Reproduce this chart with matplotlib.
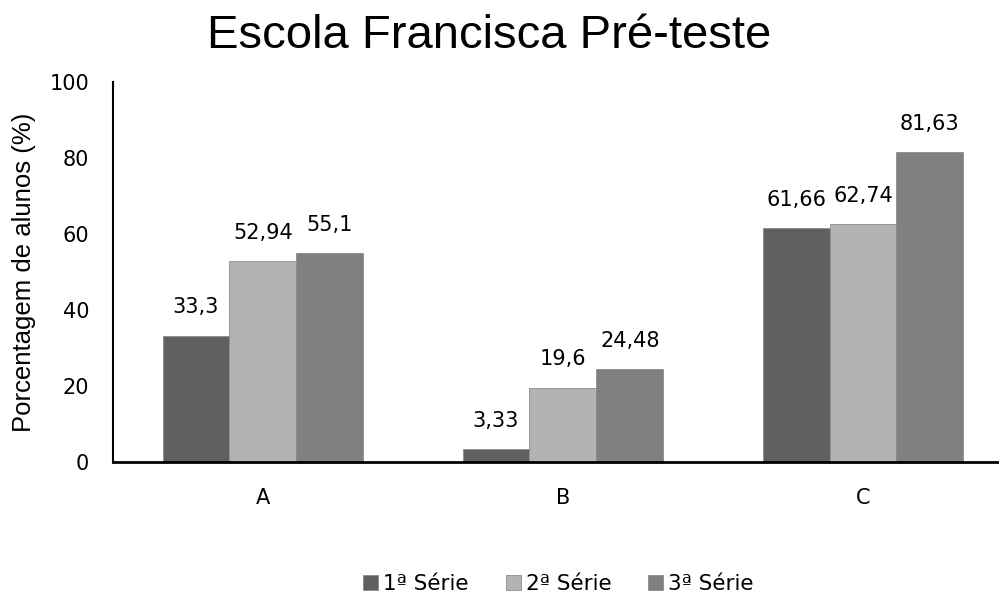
import matplotlib
matplotlib.use("Agg")
import matplotlib.pyplot as plt
import numpy as np

categories = ["A", "B", "C"]
series_names = ["1ª Série", "2ª Série", "3ª Série"]
serie1 = [33.3, 3.33, 61.66]
serie2 = [52.94, 19.6, 62.74]
serie3 = [55.1, 24.48, 81.63]
value_labels = [["33,3", "3,33", "61,66"],
                ["52,94", "19,6", "62,74"],
                ["55,1", "24,48", "81,63"]]
colors = ["#606060", "#b3b3b3", "#808080"]

fig = plt.figure(figsize=(9.99, 5.96), dpi=100)
ax = fig.add_axes([0.113, 0.2248, 0.886, 0.637])

x = np.arange(len(categories))
w = 0.223
for i, (vals, name) in enumerate(zip([serie1, serie2, serie3], series_names)):
    pos = x + (i - 1) * w
    bars = ax.bar(pos, vals, width=w, color=colors[i], label=name,
                  edgecolor="#8c8c8c", linewidth=0.6)
    for b, v, lab in zip(bars, vals, value_labels[i]):
        ax.text(b.get_x() + b.get_width() / 2, v + 4.8, lab, ha="center",
                va="bottom", fontsize=15, family="DejaVu Sans")

ax.set_xlim(-0.5, 2.45)
ax.set_ylim(0, 100)
ax.set_yticks([0, 20, 40, 60, 80, 100])
ax.set_xticks(x)
ax.set_xticklabels(categories)
ax.tick_params(axis="both", length=0, labelsize=15)
ax.tick_params(axis="y", pad=17)
ax.tick_params(axis="x", pad=19)
for s in ["top", "right"]:
    ax.spines[s].set_visible(False)
ax.spines["left"].set_linewidth(1.5)
ax.spines["bottom"].set_linewidth(2)
ax.set_ylabel("Porcentagem de alunos (%)", fontsize=18.5, family="Liberation Sans")
ax.yaxis.set_label_coords(-0.087, 0.5)

fig.suptitle("Escola Francisca Pré-teste", x=0.49, y=0.94, va="center",
             fontsize=34, family="Liberation Sans")

fig.legend(loc="center", bbox_to_anchor=(0.559, 0.02), ncol=3, frameon=False,
           fontsize=15.5, handlelength=0.7, handleheight=0.7, handletextpad=0.23,
           columnspacing=1.72, borderpad=0, borderaxespad=0)

fig.savefig("out.png", dpi=100)
